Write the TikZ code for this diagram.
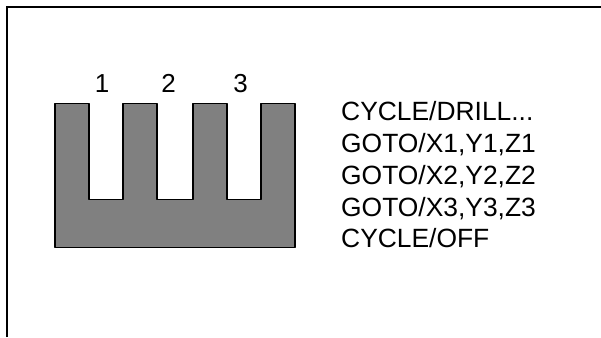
\documentclass[tikz,border=0pt]{standalone}
\usepackage{fontspec}
\setmainfont{Liberation Sans}
\definecolor{partgray}{gray}{0.5}
\tikzset{
  px/.style={x=1pt,y=-1pt},
  frameline/.style={draw=black,line width=1.5pt},
  part/.style={draw=black,fill=partgray,line width=1.5pt,line join=round},
  lbl/.style={anchor=base,inner sep=0pt,font=\fontsize{26}{26}\selectfont},
  prog/.style={anchor=base west,inner sep=0pt,font=\fontsize{26.4}{26}\selectfont}
}
\begin{document}
\begin{tikzpicture}[px]
\useasboundingbox (0,0) rectangle (601,337);
\coordinate (fb) at (7,337);
\coordinate (ftl) at (7,7);
\coordinate (fr) at (601,7);
\draw[frameline] (fb) -- (ftl) -- (fr);
\draw[part] (55,103.5) -- (89,103.5) -- (89,199.5) -- (123,199.5) -- (123,103.5)
  -- (157,103.5) -- (157,199.5) -- (193,199.5) -- (193,103.5) -- (227,103.5) -- (227,199.5)
  -- (261,199.5) -- (261,103.5) -- (295,103.5) -- (295,247.5) -- (55,247.5) -- cycle;
\node[lbl] (n1) at (102,92) {1};
\node[lbl] (n2) at (168.5,92) {2};
\node[lbl] (n3) at (240.5,92) {3};
\node[prog] (t1) at (341,120) {CYCLE/DRILL...};
\node[prog] (t2) at (341,152) {GOTO/X1,Y1,Z1};
\node[prog] (t3) at (341,184) {GOTO/X2,Y2,Z2};
\node[prog] (t4) at (341,216) {GOTO/X3,Y3,Z3};
\node[prog] (t5) at (341,247.7) {CYCLE/OFF};
\end{tikzpicture}
\end{document}
